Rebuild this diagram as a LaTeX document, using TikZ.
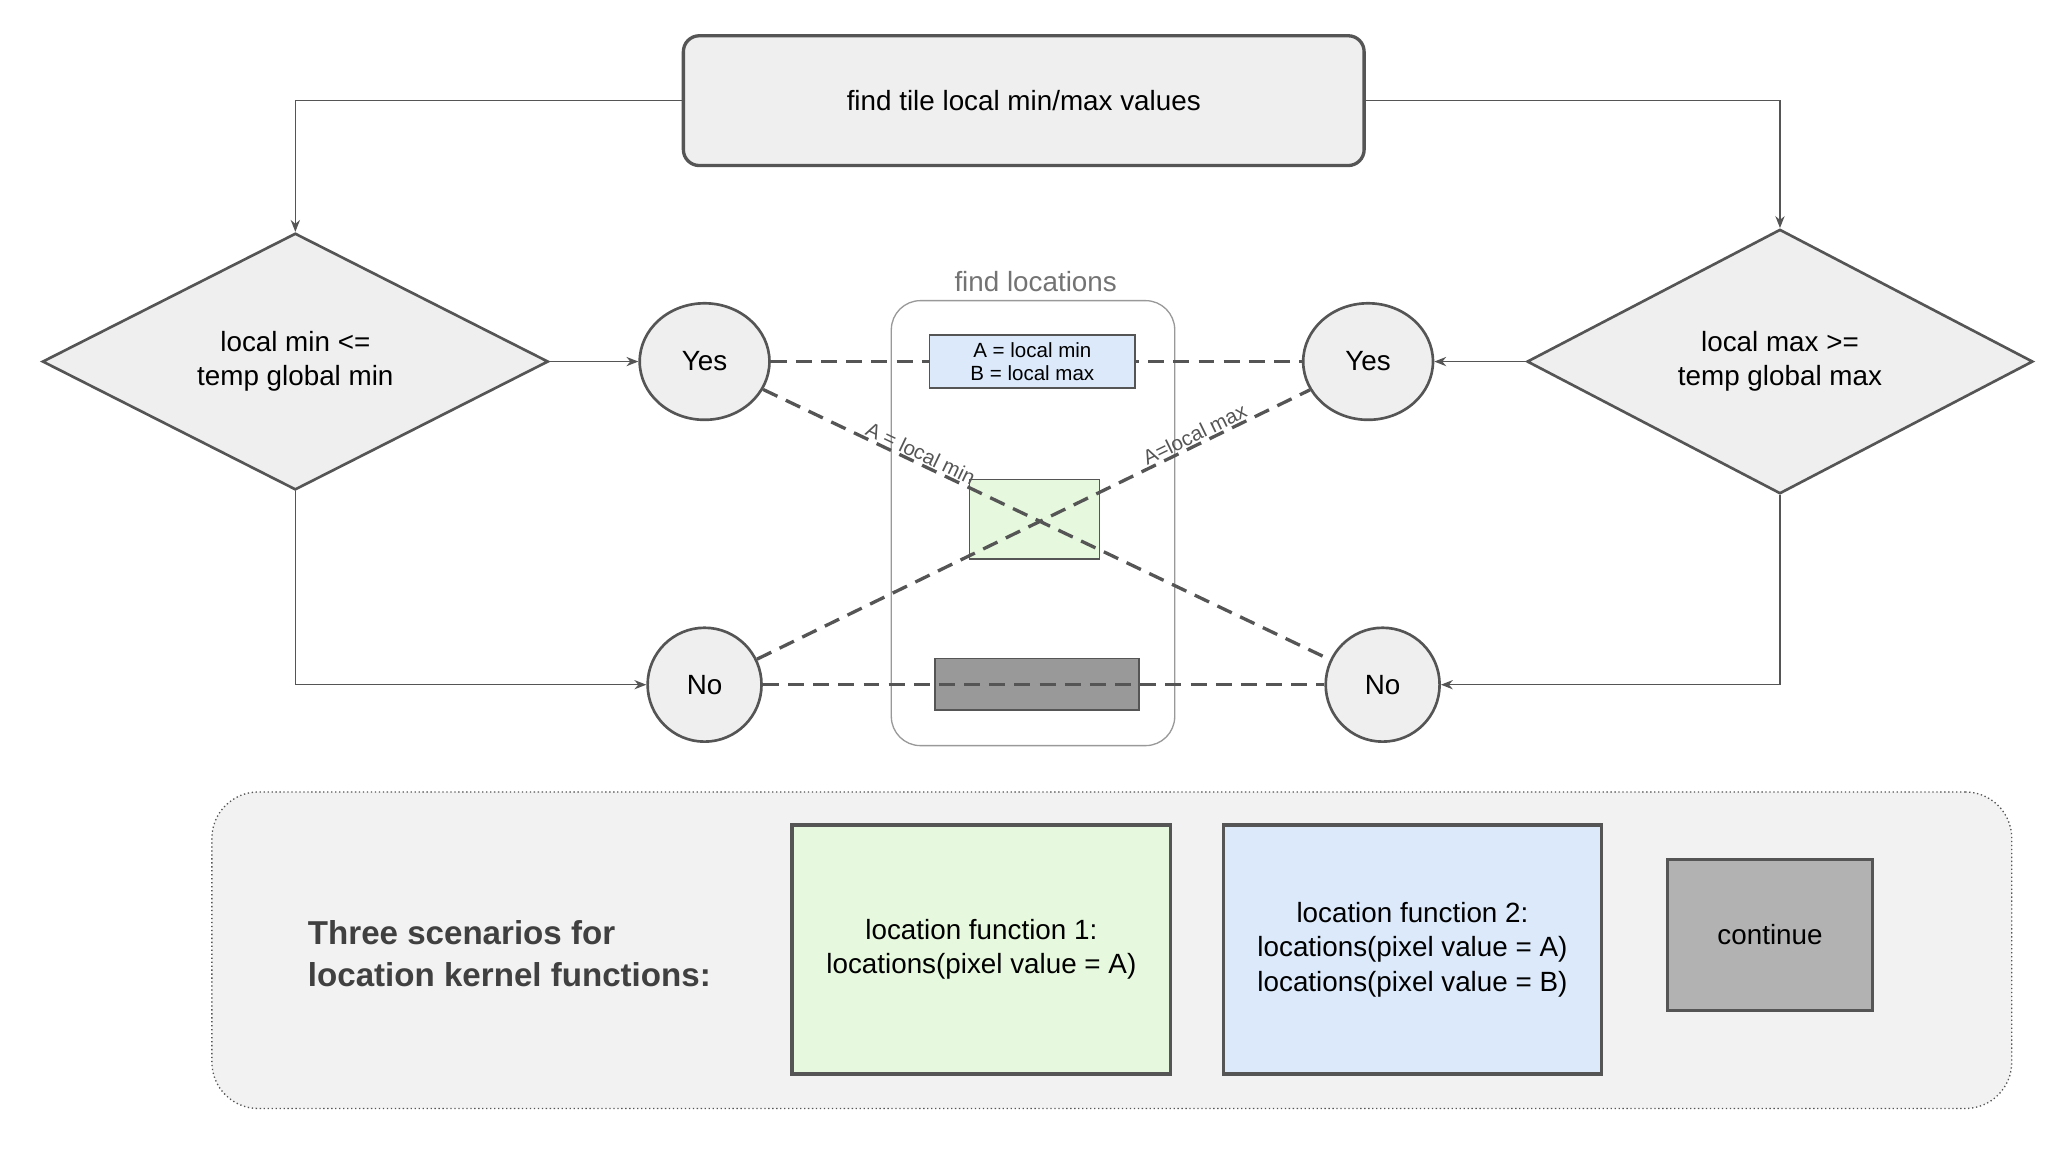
\documentclass[tikz,border=0pt]{standalone}
\usepackage{fontspec}
\setmainfont{Liberation Sans}
\usetikzlibrary{shapes.geometric,arrows.meta}
\definecolor{edge}{HTML}{555555}
\definecolor{lgray}{HTML}{EFEFEF}
\definecolor{lgreen}{HTML}{E6F8DD}
\definecolor{lblue}{HTML}{DBE9FB}
\begin{document}
\begin{tikzpicture}[x=1pt,y=-1pt,
  txt/.style={font=\fontsize{21}{26}\selectfont, align=center},
  small/.style={font=\fontsize{15.5}{17}\selectfont, align=center},
  dia/.style={diamond, draw=edge, line width=2pt, fill=lgray, minimum width=382pt, minimum height=191pt, inner sep=0pt, txt},
  circ/.style={ellipse, draw=edge, line width=2pt, fill=lgray, txt, inner sep=0pt},
  arr/.style={-{Stealth[length=9pt,width=7pt]}, edge, line width=1pt},
  dline/.style={dash pattern=on 12pt off 7pt, line width=2.5pt, edge},
  box/.style={draw=edge, line width=2.5pt, txt}]
\useasboundingbox (0,0) rectangle (1563,874);
\node[box, rounded corners=12pt, fill=lgray, minimum width=514pt, minimum height=98pt] (top) at (773,76) {find tile local min/max values};
\node[dia] (dl) at (223,273) {local min <=\\temp global min};
\node[dia] (dr) at (1344,273) {local max >=\\temp global max};
\node[circ, minimum width=98pt, minimum height=88pt] (yl) at (532,273) {Yes};
\node[circ, minimum width=98pt, minimum height=88pt] (yr) at (1033,273) {Yes};
\node[circ, minimum width=86pt, minimum height=86pt] (nl) at (532,517) {No};
\node[circ, minimum width=86pt, minimum height=86pt] (nr) at (1044,517) {No};
\draw[arr] (top.west) -| (dl.north);
\draw[arr] (top.east) -| (dr.north);
\draw[arr] (dl.east) -- (yl.west);
\draw[arr] (dr.west) -- (yr.east);
\draw[arr] (dl.south) |- (nl.west);
\draw[arr] (dr.south) |- (nr.east);
\node[draw=gray!80, line width=1pt, rounded corners=22pt, minimum width=214pt, minimum height=336pt] (cont) at (780,395) {};
\node[txt, text=gray!90!black, anchor=south] (cl) at (782,224) {find locations};
\node[draw=edge, line width=1pt, fill=lgreen, minimum width=98pt, minimum height=60pt] (gb) at (781,392) {};
\node[draw=edge, line width=1pt, fill=gray!80, minimum width=154pt, minimum height=39pt] (db) at (783,516.5) {};
\draw[dline] (yl.east) -- (yr.west);
\draw[dline] (nl.east) -- (nr.west);
\draw[dline] (yl) -- node[pos=0.27, above, sloped, small, inner sep=1pt] {A = local min} (nr);
\draw[dline] (nl) -- node[pos=0.8, above, sloped, small, inner sep=1pt] {A=local max} (yr);
\node[draw=edge, line width=1pt, fill=lblue, minimum width=155pt, minimum height=40pt, small, inner sep=0pt] (bb) at (779.5,273) {A = local min\\B = local max};
\node[draw=edge, dotted, line width=1pt, fill=gray!10, rounded corners=35pt, minimum width=1359pt, minimum height=239pt] (panel) at (839.5,717.5) {};
\node[font=\bfseries\fontsize{25}{32}\selectfont, text=black!75, align=left, anchor=west] (title) at (229,720) {Three scenarios for\\location kernel functions:};
\node[box, fill=lgreen, minimum width=286pt, minimum height=188pt] (f1) at (741,717) {location function 1:\\locations(pixel value = A)};
\node[box, fill=lblue, minimum width=285pt, minimum height=188pt] (f2) at (1066.5,717) {location function 2:\\locations(pixel value = A)\\locations(pixel value = B)};
\node[box, fill=gray!60, minimum width=155pt, minimum height=114pt] (f3) at (1336.5,706) {continue};
\end{tikzpicture}
\end{document}
